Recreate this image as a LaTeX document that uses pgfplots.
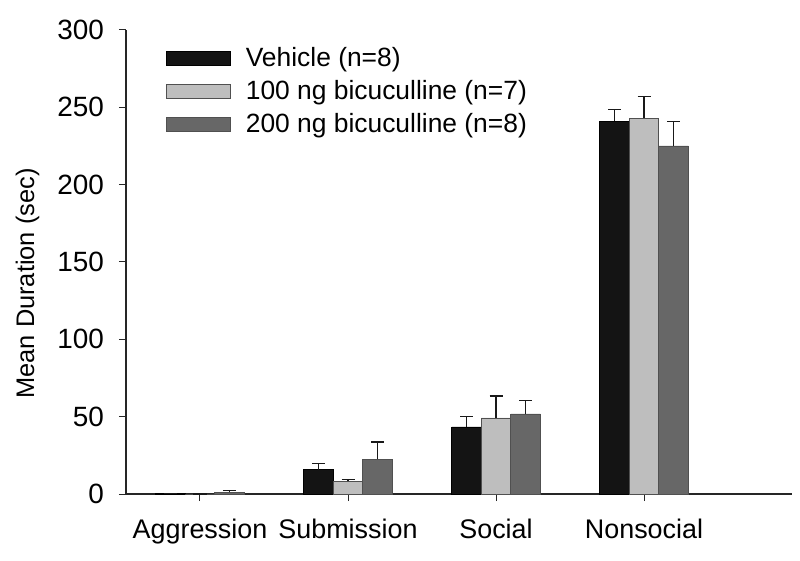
\documentclass[border=0pt]{standalone}
\usepackage{pgfplots}
\usepackage{pgfplotstable}
\pgfplotsset{compat=1.18}
\usepackage{fontspec}
\setmainfont{Liberation Sans}
\definecolor{cA}{HTML}{141414}
\definecolor{cB}{HTML}{BEBEBE}
\definecolor{cC}{HTML}{676767}
\definecolor{edge}{HTML}{505050}
\pgfplotstableread{
x y e
0 0.3 0.2
1 15.7 3.9
2 43.4 6.5
3 241.1 7.7
}\veh
\pgfplotstableread{
x y e
0 0 0
1 8.2 1.0
2 49.2 14.2
3 243.0 14.0
}\hund
\pgfplotstableread{
x y e
0 1.2 1.0
1 22.6 11.1
2 51.8 8.6
3 225.0 15.8
}\twohund
\begin{document}
\begin{tikzpicture}
\begin{axis}[
  scale only axis,
  width=666bp, height=464bp,
  xmin=-0.5, xmax=4, ymin=0, ymax=300,
  axis x line*=bottom, axis y line*=left,
  axis line style={black!85, line width=1.1bp},
  ybar=0pt, bar width=29.5bp,
  legend image code/.code={\draw[#1] (0bp,-5bp) rectangle (64bp,8.5bp);},
  xtick={0,1,2,3},
  xticklabels={Aggression,Submission,Social,Nonsocial},
  ytick={0,50,100,150,200,250,300},
  tick align=outside,
  major tick length=7bp,
  tick style={black!85, line width=1bp},
  /pgf/number format/assume math mode=true,
  yticklabel style={font=\fontsize{28}{30}\selectfont, inner sep=0pt, xshift=-15bp},
  xticklabel style={font=\fontsize{27}{30}\selectfont, inner sep=0pt, text height=19bp, text depth=6bp, yshift=-18bp},
  ylabel={Mean Duration (sec)},
  ylabel style={font=\fontsize{25.5}{30}\selectfont, at={(axis description cs:-0.148,0.4537)}, anchor=center},
  legend style={draw=none, fill=none, inner sep=0pt, at={(0.0601,0.964)}, anchor=north west,
    nodes={inner sep=0pt, text height=20bp, text depth=6bp, font=\fontsize{26.5}{30}\selectfont},
    row sep=7bp, /tikz/column sep=15bp},
  legend cell align=left,
  clip=false,
  error bars/y dir=plus, error bars/y explicit,
  error bars/error bar style={black!90, line width=1.3bp},
  error bars/error mark options={rotate=90, mark size=6.5bp, line width=1.3bp, black!90},
]
\addplot[fill=cA, draw=black, line width=0.6bp] table[x=x, y=y, y error=e] {\veh};
\addplot[fill=cB, draw=edge, line width=0.6bp] table[x=x, y=y, y error=e] {\hund};
\addplot[fill=cC, draw=edge, line width=0.6bp] table[x=x, y=y, y error=e] {\twohund};
\legend{Vehicle (n=8), 100 ng bicuculline (n=7), 200 ng bicuculline (n=8)}
\end{axis}
\pgfresetboundingbox
\path (-126bp,-67bp) rectangle (674bp,494bp);
\end{tikzpicture}
\end{document}
